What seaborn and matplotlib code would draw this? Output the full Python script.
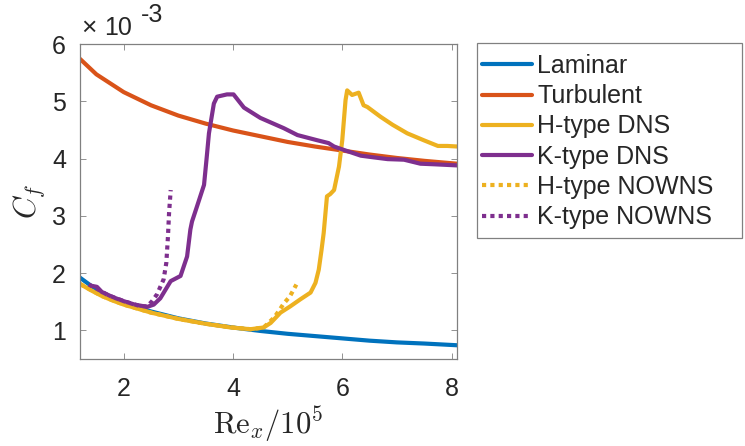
import numpy as np
import pandas as pd
import matplotlib
matplotlib.use("Agg")
import matplotlib.pyplot as plt
from matplotlib.patches import Rectangle
import seaborn as sns

# values, Cf in units of 1e-3, Re_x in units of 1e5
lam_x = [1.2, 1.4, 1.6, 1.8, 2.0, 2.25, 2.5, 2.75, 3.0, 3.5, 4.0, 4.5, 5.0, 5.5, 6.0, 6.5, 7.0, 7.5, 8.1]
lam_cf = [1.92, 1.78, 1.66, 1.57, 1.49, 1.40, 1.33, 1.27, 1.21, 1.12, 1.05, 0.99, 0.94, 0.90, 0.86, 0.82, 0.79, 0.77, 0.74]

turb_x = [1.2, 1.5, 2.0, 2.5, 3.0, 3.5, 4.0, 4.5, 5.0, 5.5, 6.0, 6.5, 7.0, 7.5, 8.1]
turb_cf = [5.74, 5.47, 5.16, 4.93, 4.75, 4.61, 4.49, 4.39, 4.29, 4.21, 4.14, 4.07, 4.01, 3.96, 3.91]

h_dns_x = [1.2, 1.4, 1.6, 1.8, 2.0, 2.5, 3.0, 3.5, 3.96, 4.32, 4.56, 4.69, 4.87, 5.05, 5.23,
           5.42, 5.51, 5.57, 5.62, 5.66, 5.72, 5.78, 5.85, 5.94, 6.0, 6.06, 6.09, 6.18,
           6.3, 6.39, 6.46, 6.7, 6.92, 7.19, 7.49, 7.75, 7.92, 8.11]
h_dns_cf = [1.81, 1.70, 1.60, 1.52, 1.45, 1.31, 1.20, 1.115, 1.05, 1.02, 1.05, 1.13, 1.31, 1.42, 1.54,
            1.66, 1.83, 2.06, 2.40, 2.70, 3.34, 3.38, 3.45, 3.86, 4.32, 5.02, 5.19, 5.11,
            5.15, 4.93, 4.90, 4.73, 4.59, 4.44, 4.32, 4.22, 4.22, 4.21]

k_dns_x = [1.40, 1.51, 1.6, 1.8, 2.0, 2.2, 2.43, 2.55, 2.67, 2.86, 3.04, 3.16, 3.22, 3.25, 3.34,
           3.47, 3.52, 3.56, 3.65, 3.71, 3.89, 4.01, 4.20, 4.50, 4.93, 5.18, 5.54, 5.75,
           5.85, 6.03, 6.34, 6.58, 6.83, 7.13, 7.43, 7.68, 8.11]
k_dns_cf = [1.78, 1.76, 1.67, 1.58, 1.51, 1.45, 1.41, 1.45, 1.56, 1.86, 1.95, 2.29, 2.76, 2.90, 3.16,
            3.54, 4.03, 4.44, 4.96, 5.08, 5.12, 5.12, 4.89, 4.71, 4.53, 4.41, 4.32, 4.27,
            4.21, 4.15, 4.05, 4.02, 3.99, 3.98, 3.91, 3.90, 3.88]

h_now_x = [1.2, 1.6, 2.0, 2.5, 3.0, 3.5, 4.0, 4.32, 4.56, 4.75, 4.84, 4.93, 5.04, 5.16]
h_now_cf = [1.81, 1.60, 1.45, 1.31, 1.20, 1.115, 1.05, 1.02, 1.05, 1.22, 1.34, 1.47, 1.59, 1.80]

k_now_x = [1.36, 1.5, 1.7, 2.0, 2.31, 2.43, 2.52, 2.61, 2.73, 2.78, 2.81, 2.83, 2.86]
k_now_cf = [1.80, 1.73, 1.62, 1.51, 1.42, 1.42, 1.51, 1.63, 1.89, 2.18, 2.64, 3.05, 3.45]

blue = "#0072BD"
orange = "#D95319"
yellow = "#EDB120"
purple = "#7E2F8E"

sns.set_style("ticks")
plt.rcParams['font.family'] = ['Liberation Sans', 'DejaVu Sans']
plt.rcParams['mathtext.fontset'] = 'cm'

W, H = 745, 446
fig = plt.figure(figsize=(7.45, 4.46), dpi=100)
ax = fig.add_axes([80 / W, 1 - 359 / H, 377 / W, 315 / H])

fs = 18
lw = 3.0
dot = (0, (1, 1))
sns.lineplot(x=lam_x, y=lam_cf, ax=ax, color=blue, linewidth=lw, label="Laminar")
sns.lineplot(x=turb_x, y=turb_cf, ax=ax, color=orange, linewidth=lw, label="Turbulent")
sns.lineplot(x=h_dns_x, y=h_dns_cf, ax=ax, color=yellow, linewidth=lw, label="H-type DNS")
sns.lineplot(x=k_dns_x, y=k_dns_cf, ax=ax, color=purple, linewidth=lw, label="K-type DNS")
sns.lineplot(x=h_now_x, y=h_now_cf, ax=ax, color=yellow, linewidth=lw, linestyle=dot, label="H-type NOWNS")
sns.lineplot(x=k_now_x, y=k_now_cf, ax=ax, color=purple, linewidth=lw, linestyle=dot, label="K-type NOWNS")

ax.set_xlim(1.2, 8.1)
ax.set_ylim(0.5, 6)
ax.set_xticks([2, 4, 6, 8])
ax.set_yticks([1, 2, 3, 4, 5, 6])
ax.tick_params(direction='in', length=4, width=0.6, top=True, right=True,
               labelsize=fs, colors='#808080', labelcolor='#262626')
ax.tick_params(axis='x', pad=13)
ax.tick_params(axis='y', pad=10)
for s in ax.spines.values():
    s.set_color('#808080')
    s.set_linewidth(0.9)

ax.set_xlabel(r'$\mathrm{Re}_x/10^5$', fontsize=22, color='#262626', labelpad=3)
ax.set_ylabel(r'$C_f$', fontsize=22, color='#262626', labelpad=4)

# axis multiplier as in the original
fig.text(81 / W, 1 - 35 / H, '×', fontsize=fs + 1, color='#262626', ha='left', va='baseline')
fig.text(104 / W, 1 - 35 / H, '10', fontsize=fs, color='#262626', ha='left', va='baseline')
fig.text(141 / W, 1 - 22 / H, '-3', fontsize=fs, color='#262626', ha='left', va='baseline')

leg = ax.legend(loc='upper left', bbox_to_anchor=(482 / W, 1 - 54 / H), bbox_transform=fig.transFigure,
                fontsize=fs, frameon=False, handlelength=2.0,
                handletextpad=0.2, labelspacing=0.25, borderpad=0, borderaxespad=0)
fig.patches.append(Rectangle((477 / W, 1 - 238 / H), 265 / W, 195 / H, transform=fig.transFigure,
                             fill=False, edgecolor='#808080', linewidth=0.9))

fig.savefig("out.png", dpi=100)
